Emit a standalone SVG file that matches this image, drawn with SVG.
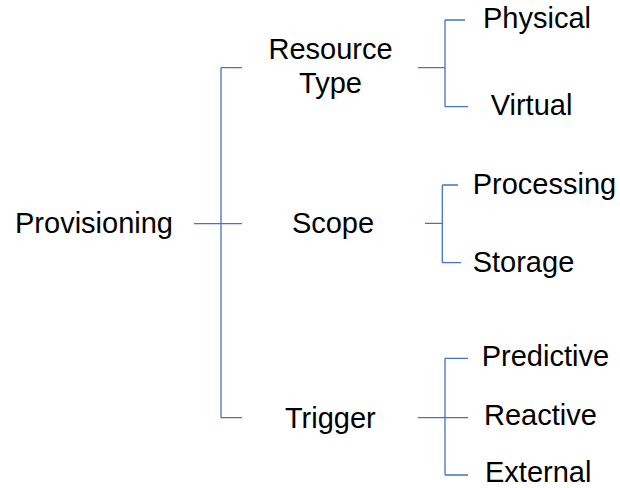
<svg xmlns="http://www.w3.org/2000/svg" width="620" height="488" viewBox="0 0 620 488">
<style>
text { font-family: "Liberation Sans", Arial, sans-serif; font-size: 29px; fill: #000; }
.c { text-anchor: middle; }
.ln { fill: none; stroke: #4472C4; stroke-width: 1.3; }
</style>
<rect width="620" height="488" fill="#fff"/>
<g id="connectors">
  <path class="ln" d="M194,223.7 H221 M221,67.7 V417.7 M221,67.7 H242 M221,223.7 H242 M221,417.7 H242"/>
  <path class="ln" d="M418,67.7 H445 M445,20 V106.7 M445,20 H465 M445,106.7 H468"/>
  <path class="ln" d="M425,223.3 H442.3 M442.3,185 V262.7 M442.3,185 H458 M442.3,262.7 H461"/>
  <path class="ln" d="M418,417.7 H468 M445,358.3 V475 M445,358.3 H468 M445,475 H468"/>
</g>
<g id="provisioning"><text x="15" y="233.3">Provisioning</text></g>
<g id="resource-type"><text class="c" x="330.5" y="59.3">Resource</text><text class="c" x="330.5" y="93.3">Type</text></g>
<g id="scope"><text class="c" x="333" y="232.7">Scope</text></g>
<g id="trigger"><text class="c" x="330.3" y="427.7">Trigger</text></g>
<g id="physical"><text x="483" y="28.3">Physical</text></g>
<g id="virtual"><text x="490.7" y="115">Virtual</text></g>
<g id="processing"><text x="472.7" y="194.3">Processing</text></g>
<g id="storage"><text x="472.7" y="271.7">Storage</text></g>
<g id="predictive"><text x="481.7" y="366">Predictive</text></g>
<g id="reactive"><text x="484" y="425">Reactive</text></g>
<g id="external"><text x="485" y="481.7">External</text></g>
</svg>
